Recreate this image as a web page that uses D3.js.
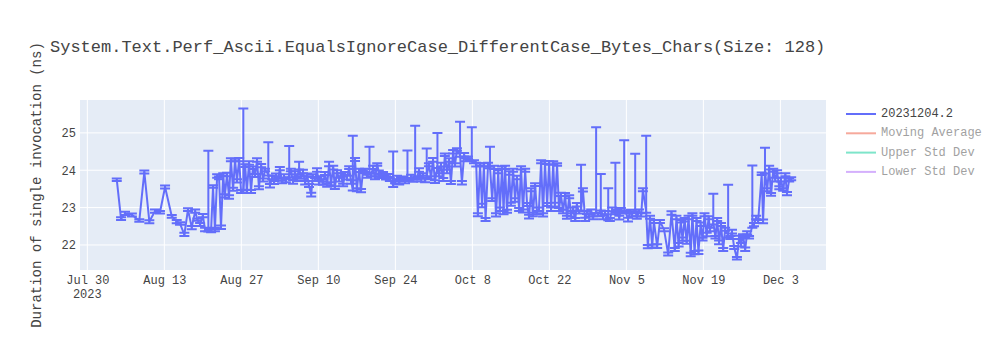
<!DOCTYPE html>
<html><head><meta charset="utf-8">
<script src="https://cdn.jsdelivr.net/npm/d3@7"></script>
<style>body{margin:0;background:#fff} svg{display:block}</style>
</head><body><svg id="chart" width="1000" height="350"></svg>
<script>
const chartTitle = "System.Text.Perf_Ascii.EqualsIgnoreCase_DifferentCase_Bytes_Chars(Size: 128)";
const yAxisTitle = "Duration of single invocation (ns)";
const startDate = "2023-07-30";
const dayOffsets = [
5.35,6.13,6.85,8.1,9.45,10.36,11.27,12.3,13.2,14.13,15.35,16.25,16.85,17.64,18.3,18.98,19.6,20.0,20.5,21.0,21.4,22.0,22.5,22.85,23.2,23.6,23.95,24.3,24.7,25.0,25.4,25.76,26.1,26.5,26.85,27.2,27.6,27.95,28.36,28.7,29.0,29.4,29.76,30.1,30.5,30.85,31.2,31.6,31.95,32.3,32.9,33.2,33.6,33.95,34.3,34.7,35.0,35.4,35.76,36.1,36.7,37.0,37.4,37.76,38.1,38.5,38.85,39.2,39.6,39.95,40.3,40.7,41.0,41.4,
41.76,42.1,42.5,42.85,43.2,43.6,43.95,44.3,44.7,45.0,45.4,45.76,46.1,46.5,46.85,47.2,47.6,47.95,48.26,48.67,49.0,49.4,49.76,50.1,50.5,50.85,51.3,51.6,51.95,52.3,52.7,53.0,53.4,53.76,54.3,54.7,55.0,55.6,55.95,56.3,56.7,57.0,57.4,57.76,58.2,58.5,58.85,59.2,59.6,59.95,60.3,60.7,61.0,61.4,61.7,62.1,62.5,
62.85,63.2,63.65,63.95,64.3,64.7,65.0,65.4,65.76,66.1,66.5,66.85,67.2,67.76,68.1,68.5,68.85,69.2,69.9,70.3,70.7,71.0,71.4,71.76,72.1,72.4,72.85,73.2,73.6,73.95,74.3,74.7,75.0,75.4,75.67,75.95,76.3,76.7,77.0,77.4,77.76,78.1,78.5,78.85,79.2,79.6,79.95,80.3,80.7,81.0,81.4,81.76,82.1,82.5,82.85,83.2,83.6,83.95,84.3,84.7,85.0,
85.4,85.76,86.1,86.5,86.85,87.2,87.6,87.95,88.3,88.7,89.0,89.4,89.76,90.1,90.5,90.85,91.2,91.6,91.95,92.5,92.85,93.35,93.76,94.1,94.7,95.0,95.4,96.0,96.3,96.7,97.0,97.6,97.9,98.3,98.7,99.0,99.6,99.9,100.3,100.7,101.0,101.6,101.9,102.3,102.7,103.0,103.6,104.1,104.85,105.6,106.2,
106.8,107.1,107.5,107.9,108.2,108.6,108.96,109.3,109.7,110.0,110.4,110.76,111.1,111.5,111.85,112.2,112.6,112.96,113.2,113.8,114.2,114.5,114.85,115.2,115.6,115.95,116.5,116.9,117.2,117.6,118.1,118.5,118.85,119.2,119.6,119.96,120.3,120.9,121.2,121.6,121.95,122.6,122.85,123.2,123.6,123.96,124.3,124.7,125.06,125.4,125.8,126.1,126.5,126.9,127.2,127.6,127.96
];
const values = [
23.75,22.70,22.84,22.81,22.65,23.95,22.63,22.90,22.87,23.55,22.77,22.63,22.57,22.28,22.95,22.47,22.90,22.68,22.55,22.79,22.41,22.40,22.39,23.56,22.41,23.85,23.80,22.47,23.88,23.32,23.88,23.29,24.28,23.48,24.28,23.72,24.28,23.43,23.45,24.12,23.43,24.20,23.43,24.07,23.85,24.28,23.53,24.12,23.75,24.00,23.90,23.59,23.80,23.67,23.88,23.75,24.04,23.69,23.85,23.72,23.85,24.00,23.69,23.93,23.75,24.07,23.80,23.96,23.67,23.88,23.59,23.35,23.85,23.75,
24.00,23.67,23.80,23.64,23.91,23.61,24.15,23.64,24.07,23.53,23.96,23.75,23.88,23.61,23.91,23.80,24.07,23.69,23.50,24.28,23.48,24.00,23.45,23.96,24.00,23.83,23.95,23.88,24.07,23.80,24.15,23.96,23.83,23.91,23.80,23.85,23.75,23.60,23.69,23.80,23.67,23.75,23.80,23.69,23.80,23.75,23.83,23.72,23.80,23.80,24.00,23.75,23.88,23.72,23.85,24.15,23.80,
24.28,23.69,24.10,23.88,24.15,23.75,24.41,23.96,24.28,23.67,24.49,24.15,24.55,24.40,23.67,24.41,24.28,24.33,24.30,24.23,24.15,22.81,24.15,23.05,24.15,22.68,24.15,24.10,23.21,24.07,22.81,23.96,22.95,24.07,22.87,24.07,22.90,23.93,23.08,24.00,23.21,23.80,22.95,24.07,22.90,24.00,23.08,22.76,23.48,22.81,23.61,22.87,22.95,24.23,22.81,24.20,23.08,24.20,22.95,24.20,23.08,
24.15,22.95,23.35,22.90,23.35,22.73,23.29,22.81,22.95,22.68,23.08,22.87,22.95,23.48,22.68,22.87,22.79,22.90,22.73,22.90,22.81,22.95,22.73,22.87,22.70,22.68,22.95,22.85,22.90,22.73,22.95,22.90,22.87,22.68,22.90,22.81,22.95,22.73,22.90,22.81,23.48,22.90,21.96,22.73,21.97,22.63,21.97,22.63,22.41,21.75,22.86,
21.88,22.73,22.01,22.63,22.15,22.68,22.07,22.73,21.75,22.81,21.79,22.68,21.81,22.55,22.15,22.81,22.28,22.73,22.41,22.60,22.20,22.68,22.07,22.55,21.88,22.41,22.25,22.20,22.36,21.93,21.64,22.20,22.01,22.25,21.88,22.33,22.20,22.50,22.55,22.73,22.63,23.90,22.63,23.95,23.48,24.07,23.35,24.00,23.75,23.96,23.53,23.75,23.48,23.88,23.37,23.75,23.77
];
const errHigh = [
.03,.04,.05,.03,.04,.04,.03,.05,.04,.04, .03,.04,.04,.05,.03,.04,.05,.03,.04,.04,
.05,2.12,.04,.04,.05,.04,.03,.05,.04,.04, .05,.04,.04,.05,.03,.04,.05,.04,2.2,.04,
.05,.04,.04,.03,.05,.04,.04,.05,.03,.04, .85,.04,.05,.04,.03,.04,.05,.04,.04,.05,
.8,.04,.05,.04,.04,.16,.04,.05,.04,.03, .04,.05,.04,.04,.05,.04,.04,.05,.04,.03,
.08,.04,.05,.04,.04,.05,.04,.03,.04,.05, .04,.04,1.42,.05,.04,.04,.05,.04,.04,.05,
.68,.04,.05,.04,.04,.03,.05,.04,.04,.05, .04,.9,.04,.05,.04,.04,.03,.05,.73,.04,
.05,.04,1.39,.04,.05,.04,.04,.05,.73,.04, .04,.05,.04,.9,.04,.05,.04,.04,.05,.04,
.04,.05,.04,.04,.9,.04,.05,.04,.04,.85, .04,.05,.04,.04,.05,.04,.04,.05,.53,.04,
.05,.04,.04,.05,.04,.04,.05,.04,.04,.05, .04,.04,.05,.04,.04,.05,.04,.04,.05,.04,
.05,.04,.04,.05,.04,.04,.05,.04,.04,.05, .04,.05,.04,.04,.05,.04,.04,.05,.04,.04,
.05,.04,.04,.05,1.2,.04,.05,.04,.04,.05, .04,2.25,.04,.95,.05,.04,.82,.04,.05,1.35,
.04,.05,.04,1.9,.04,.05,.04,.04,1.49,.04, .05,.04,.04,2.02,.04,.05,.04,.04,.05,.04,
.04,.05,.04,.04,.05,.04,.04,.05,.04,.04, .05,.04,.04,.05,.04,.04,.05,.04,.04,.05,
.04,.05,.77,.04,.04,.05,.04,.04,.05,1.36, .04,.05,.04,.04,.05,.04,.04,.05,.04,.04,
1.63,.04,.05,.04,.04,.05,.65,.04,.05,.04, .04,.05,.04,.04,.05,.04,.04,.05,.04,.04
];
const errLow = [
.04,.03,.04,.05,.03,.04,.05,.04,.03,.04, .04,.05,.03,.04,.04,.05,.04,.03,.04,.05,
.04,.04,.05,.03,.04,.05,.04,.04,.03,.05, .04,.05,.04,.03,.04,.05,.04,.04,.05,.03,
.04,.05,.04,.04,.03,.05,.04,.04,.05,.03, .04,.05,.04,.04,.05,.03,.04,.04,.05,.04,
.04,.03,.05,.04,.04,.05,.03,.04,.05,.04, .04,.05,.03,.04,.04,.05,.04,.03,.04,.05,
.04,.04,.05,.03,.04,.05,.04,.04,.03,.05, .04,.05,.04,.03,.04,.05,.04,.04,.05,.03,
.04,.05,.04,.04,.03,.05,.04,.04,.05,.03, .04,.05,.04,.04,.05,.03,.04,.04,.05,.04,
.04,.03,.05,.04,.04,.05,.03,.04,.05,.04, .04,.05,.03,.04,.04,.05,.04,.03,.04,.05,
.04,.04,.05,.03,.04,.05,.04,.04,.03,.05, .04,.05,.04,.03,.04,.05,.04,.04,.05,.03,
.04,.05,.04,.04,.03,.05,.04,.04,.05,.03, .04,.05,.04,.04,.05,.03,.04,.04,.05,.04,
.04,.03,.05,.04,.04,.05,.03,.04,.05,.04, .04,.05,.03,.04,.04,.05,.04,.03,.04,.05,
.04,.04,.05,.03,.04,.05,.04,.04,.03,.05, .04,.05,.04,.03,.04,.05,.04,.04,.05,.03,
.04,.05,.04,.04,.03,.05,.04,.04,.05,.03, .04,.05,.04,.04,.05,.03,.04,.04,.05,.04,
.04,.03,.05,.04,.04,.05,.03,.04,.05,.04, .04,.05,.03,.04,.04,.05,.04,.03,.04,.05,
.04,.04,.05,.03,.04,.05,.04,.04,.03,.05, .04,.05,.04,.03,.04,.05,.04,.04,.05,.03,
.04,.05,.04,.04,.03,.05,.04,.04,.05,.03, .04,.05,.04,.04,.05,.03,.04,.04,.05,.04
];
const xTickDates = ["2023-07-30","2023-08-13","2023-08-27","2023-09-10","2023-09-24","2023-10-08","2023-10-22","2023-11-05","2023-11-19","2023-12-03"];
const xTickLabels = ["Jul 30","Aug 13","Aug 27","Sep 10","Sep 24","Oct 8","Oct 22","Nov 5","Nov 19","Dec 3"];
const xYearLabel = "2023";
const xRange = ["2023-07-28T16:00","2023-12-11T07:00"];
const yTicks = [22, 23, 24, 25];
const yRange = [21.33, 25.88];
const legendNames = ["20231204.2", "Moving Average", "Upper Std Dev", "Lower Std Dev"];
const legendColors = ["#636efa", "#EF553B", "#00cc96", "#ab63fa"];
const legendShown = [true, false, false, false];

const W = 1000, H = 350;
const margin = {left: 80, top: 100, right: 174, bottom: 80};
const pw = W - margin.left - margin.right, ph = H - margin.top - margin.bottom;
const font = "'Liberation Mono', 'Courier New', monospace";
const textColor = "#444";

const svg = d3.select("#chart");
const parseT = d3.utcParse("%Y-%m-%dT%H:%M");
const parseD = d3.utcParse("%Y-%m-%d");
const base = parseD(startDate);
const dates = dayOffsets.map(d => new Date(base.getTime() + d * 86400000));

const x = d3.scaleUtc().domain(xRange.map(parseT)).range([margin.left, margin.left + pw]);
const y = d3.scaleLinear().domain(yRange).range([margin.top + ph, margin.top]);

svg.append("rect").attr("x", margin.left).attr("y", margin.top).attr("width", pw).attr("height", ph).attr("fill", "#e5ecf6");

const tickD = xTickDates.map(parseD);
const gx = svg.append("g").attr("transform", `translate(0,${margin.top + ph})`)
  .call(d3.axisBottom(x).tickValues(tickD).tickSize(0).tickPadding(0).tickFormat((d, i) => xTickLabels[i]));
gx.select(".domain").remove();
gx.selectAll("text").attr("dy", null).attr("y", 14).attr("font-family", font).attr("font-size", 12).attr("fill", textColor);

const gy = svg.append("g").attr("transform", `translate(${margin.left},0)`)
  .call(d3.axisLeft(y).tickValues(yTicks).tickSize(0).tickPadding(4).tickFormat(d3.format("d")));
gy.select(".domain").remove();
gy.selectAll("text").attr("font-family", font).attr("font-size", 12).attr("fill", textColor);

// grid
svg.append("g").selectAll("line").data(tickD).join("line")
  .attr("x1", d => x(d)).attr("x2", d => x(d)).attr("y1", margin.top).attr("y2", margin.top + ph)
  .attr("stroke", "#fff").attr("stroke-width", 1);
svg.append("g").selectAll("line").data(yTicks).join("line")
  .attr("x1", margin.left).attr("x2", margin.left + pw).attr("y1", d => y(d)).attr("y2", d => y(d))
  .attr("stroke", "#fff").attr("stroke-width", 1);

svg.append("text").attr("x", x(tickD[0])).attr("y", margin.top + ph + 28).attr("text-anchor", "middle")
  .attr("font-family", font).attr("font-size", 12).attr("fill", textColor).text(xYearLabel);

svg.append("defs").append("clipPath").attr("id", "clip").append("rect")
  .attr("x", margin.left).attr("y", margin.top).attr("width", pw).attr("height", ph);

const color = legendColors[0];
const pts = values.map((v, i) => ({t: dates[i], v, hi: v + errHigh[i], lo: v - errLow[i]}));
const plot = svg.append("g").attr("clip-path", "url(#clip)");
const eb = plot.append("g").attr("stroke", color).attr("stroke-width", 2).attr("fill", "none");
pts.forEach(p => {
  const cx = x(p.t), yh = y(p.hi), yl = y(p.lo);
  eb.append("path").attr("d", `M${cx},${yl}V${yh}M${cx - 5},${yh}H${cx + 5}M${cx - 5},${yl}H${cx + 5}`);
});
plot.append("path").datum(pts)
  .attr("d", d3.line().x(p => x(p.t)).y(p => y(p.v)))
  .attr("fill", "none").attr("stroke", color).attr("stroke-width", 2).attr("stroke-linejoin", "round");

// title
svg.append("text").attr("x", 50).attr("y", 52).attr("font-family", font).attr("font-size", 17)
  .attr("fill", textColor).text(chartTitle);

// y axis title
svg.append("text").attr("transform", `translate(37,${margin.top + ph / 2}) rotate(-90)`)
  .attr("text-anchor", "middle").attr("dominant-baseline", "central")
  .attr("font-family", font).attr("font-size", 14).attr("fill", textColor).text(yAxisTitle);

// legend
const lg = svg.append("g");
legendNames.forEach((n, i) => {
  const ly = 114 + i * 19.3;
  const g = lg.append("g").attr("opacity", legendShown[i] ? 1 : 0.5);
  g.append("line").attr("x1", 846).attr("x2", 876).attr("y1", ly).attr("y2", ly)
    .attr("stroke", legendColors[i]).attr("stroke-width", 2);
  g.append("text").attr("x", 881).attr("y", ly).attr("dominant-baseline", "central")
    .attr("font-family", font).attr("font-size", 12).attr("fill", textColor).text(n);
});
</script></body></html>
